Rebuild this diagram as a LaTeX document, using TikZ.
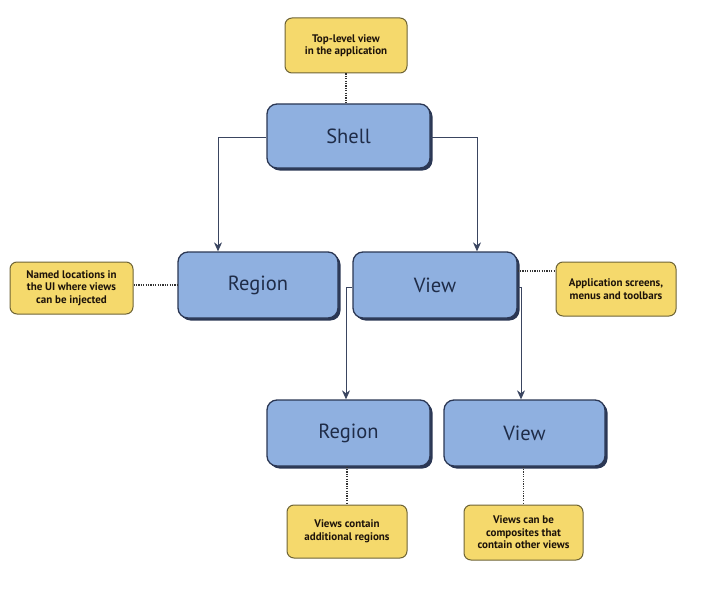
\documentclass[tikz,border=0pt]{standalone}
\usepackage{fontspec}
\setmainfont{PT Sans}
\usetikzlibrary{arrows.meta,shadows}
\definecolor{boxblue}{HTML}{8FB0E0}
\definecolor{boxedge}{HTML}{2B3754}
\definecolor{notey}{HTML}{F5D96C}
\definecolor{noteedge}{HTML}{6E6436}
\definecolor{txtblue}{HTML}{1F2C48}
\definecolor{linec}{HTML}{3A4560}
\tikzset{
  x=1pt,y=-1pt,
  bluebox/.style={draw=boxedge,line width=1.3pt,fill=boxblue,rounded corners=10pt,
    text=txtblue,font=\fontsize{20.5}{22}\selectfont,inner sep=0pt,
    drop shadow={shadow xshift=2.5pt,shadow yshift=-2.5pt,opacity=1,fill=boxedge}},
  notebox/.style={draw=noteedge,line width=1pt,fill=notey,rounded corners=7pt,
    text=black!85!brown,font=\fontsize{11}{12.5}\selectfont\bfseries,align=center,inner sep=0pt},
  conn/.style={draw=linec,line width=0.9pt,-{Stealth[length=9pt,width=8pt]}},
  dots/.style={draw=black!80,line width=1.4pt,dash pattern=on 1.2pt off 1.2pt},
}
\begin{document}
\begin{tikzpicture}
\useasboundingbox (0,0) rectangle (721,594);
% blue boxes
\node[bluebox,minimum width=163pt,minimum height=64pt] (shell) at (348.5,136) {Shell};
\node[bluebox,minimum width=160pt,minimum height=66pt] (regionL) at (258,285) {Region};
\node[bluebox,minimum width=164pt,minimum height=66pt] (viewT) at (435,285) {View};
\node[bluebox,minimum width=163pt,minimum height=66pt] (regionB) at (348.5,433) {Region};
\node[bluebox,minimum width=161pt,minimum height=66pt] (viewB) at (524.5,433) {View};
% notes
\node[notebox,minimum width=122pt,minimum height=55pt] (ntop) at (346,45.5) {Top-level view\\in the application};
\node[notebox,minimum width=123pt,minimum height=52pt] (nleft) at (71.5,288) {Named locations in\\the UI where views\\can be injected};
\node[notebox,minimum width=120pt,minimum height=54pt] (nright) at (616,289) {Application screens,\\menus and toolbars};
\node[notebox,minimum width=120pt,minimum height=53pt] (nb1) at (347,531.5) {Views contain\\additional regions};
\node[notebox,minimum width=119pt,minimum height=55pt] (nb2) at (523.5,532.5) {Views can be\\composites that\\contain other views};
% connectors
\coordinate (c1) at (218,137);
\coordinate (c2) at (477,137);
\coordinate (c3) at (346,287);
\coordinate (c4) at (521,287);
\draw[conn] (shell.west |- c1) -- (c1) -- (c1 |- regionL.north);
\draw[conn] (shell.east |- c2) -- (c2) -- (c2 |- viewT.north);
\draw[conn] (viewT.west |- c3) -- (c3) -- (c3 |- regionB.north);
\draw[conn] (viewT.east |- c4) -- (c4) -- (c4 |- viewB.north);
% dotted links
\draw[dots] (ntop.south) -- (ntop.south |- shell.north);
\draw[dots] (nleft.east |- regionL.west) -- (regionL.west);
\coordinate (d1) at (517,271);
\draw[dots] (viewT.east |- d1) -- (nright.west |- d1);
\draw[dots] (nb1.north |- regionB.south) -- (nb1.north);
\draw[dots] (nb2.north |- viewB.south) -- (nb2.north);
\end{tikzpicture}
\end{document}
